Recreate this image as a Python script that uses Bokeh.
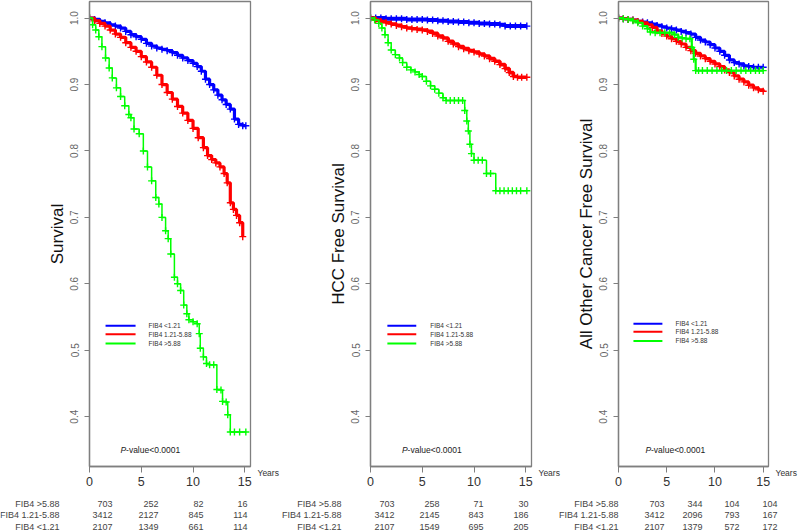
from bokeh.plotting import figure
from bokeh.models import Range1d, FixedTicker, PrintfTickFormatter, LinearAxis
from bokeh.layouts import row, column
from bokeh.core.properties import value
from bokeh.embed import file_html
from bokeh.resources import INLINE

FONT = "Liberation Sans"

# ---------------- data ----------------
group_labels = ["FIB4 <1.21", "FIB4 1.21-5.88", "FIB4 >5.88"]
group_colors = ["#0000FF", "#FF0000", "#00FF00"]

# Panel 1: overall survival
os_low_t = [0, 0.5, 1.0, 1.5, 2.0, 2.5, 3.0, 3.5, 4.0, 4.5, 5.0, 5.5, 6.0, 6.5, 7.0, 7.5, 8.0, 8.5, 9.0, 9.5,
            10.0, 10.4, 10.8, 11.2, 11.6, 12.0, 12.4, 12.8, 13.2, 13.6, 14.0, 14.4, 14.8, 15.1]
os_low_s = [1.0, 0.998, 0.995, 0.993, 0.99, 0.988, 0.985, 0.98, 0.975, 0.972, 0.968, 0.962, 0.958, 0.955, 0.953,
            0.951, 0.948, 0.944, 0.94, 0.936, 0.932, 0.927, 0.92, 0.908, 0.9, 0.892, 0.884, 0.877, 0.87, 0.863,
            0.848, 0.84, 0.838, 0.838]
os_mid_t = [0, 0.5, 1.0, 1.5, 2.0, 2.5, 3.0, 3.5, 4.0, 4.5, 5.0, 5.5, 6.0, 6.5, 7.0, 7.5, 8.0, 8.5, 9.0, 9.5,
            10.0, 10.5, 11.0, 11.4, 11.8, 12.2, 12.6, 13.0, 13.3, 13.6, 13.9, 14.2, 14.5, 14.8]
os_mid_s = [1.0, 0.996, 0.992, 0.988, 0.982, 0.976, 0.971, 0.963, 0.956, 0.95, 0.942, 0.934, 0.926, 0.914, 0.9,
            0.888, 0.878, 0.867, 0.857, 0.846, 0.834, 0.82, 0.805, 0.793, 0.787, 0.782, 0.776, 0.766, 0.752,
            0.722, 0.712, 0.703, 0.692, 0.671]
os_high_t = [0, 0.3, 0.6, 0.9, 1.2, 1.55, 1.9, 2.2, 2.6, 3.0, 3.4, 3.8, 4.0, 4.3, 4.8, 5.2, 5.6, 6.0, 6.4, 6.7,
             7.0, 7.35, 7.6, 7.85, 8.2, 8.5, 8.8, 9.1, 9.4, 9.6, 10.0, 10.4, 10.6, 10.7, 11.0, 11.3, 11.6, 12.0,
             12.3, 12.7, 12.85, 13.2, 13.35, 13.6, 14.0, 14.5, 15.1]
os_high_s = [1.0, 0.99, 0.982, 0.972, 0.957, 0.94, 0.925, 0.91, 0.895, 0.882, 0.868, 0.855, 0.85, 0.833, 0.826,
             0.80, 0.776, 0.755, 0.73, 0.72, 0.70, 0.68, 0.668, 0.645, 0.61, 0.60, 0.59, 0.568, 0.555, 0.546,
             0.543, 0.54, 0.525, 0.503, 0.49, 0.48, 0.478, 0.478, 0.441, 0.44, 0.423, 0.422, 0.403, 0.377,
             0.377, 0.377, 0.377]

# Panel 2: HCC free survival
hcc_low_t = [0, 0.5, 1, 1.5, 2, 2.5, 3, 3.5, 4, 4.5, 5, 5.5, 6, 6.5, 7, 7.5, 8, 8.5, 9, 9.5, 10, 10.5, 11,
             11.5, 12, 12.5, 13, 13.5, 14, 14.5, 15.1]
hcc_low_s = [1.0, 1.0, 1.0, 0.999, 0.999, 0.999, 0.999, 0.998, 0.998, 0.998, 0.998, 0.997, 0.997, 0.996, 0.996,
             0.995, 0.995, 0.994, 0.994, 0.993, 0.993, 0.992, 0.992, 0.991, 0.991, 0.990, 0.988, 0.988, 0.988,
             0.988, 0.988]
hcc_mid_t = [0, 0.5, 1.0, 1.5, 2.0, 2.5, 3.0, 3.5, 4.0, 4.5, 5.0, 5.5, 6.0, 6.5, 7.0, 7.5, 8.0, 8.5, 9.0, 9.5,
             10.0, 10.5, 11.0, 11.5, 12.0, 12.5, 13.0, 13.4, 13.8, 14.2, 14.6, 15.1]
hcc_mid_s = [1.0, 0.997, 0.995, 0.993, 0.991, 0.989, 0.987, 0.985, 0.984, 0.983, 0.982, 0.98, 0.977, 0.973,
             0.97, 0.965, 0.961, 0.957, 0.954, 0.951, 0.949, 0.946, 0.943, 0.939, 0.935, 0.93, 0.924, 0.918,
             0.912, 0.911, 0.911, 0.911]
hcc_high_t = [0, 0.4, 0.8, 1.1, 1.4, 1.7, 2.0, 2.4, 2.8, 3.1, 3.5, 3.9, 4.3, 4.7, 5.0, 5.4, 5.8, 6.2, 6.6, 7.0,
              7.3, 7.7, 8.1, 8.5, 8.9, 9.1, 9.3, 9.45, 9.6, 9.75, 10.0, 10.4, 10.8, 11.2, 11.6, 12.1, 12.5,
              12.9, 13.3, 13.7, 14.1, 14.5, 15.1]
hcc_high_s = [1.0, 0.997, 0.992, 0.985, 0.975, 0.963, 0.952, 0.945, 0.94, 0.933, 0.926, 0.922, 0.919, 0.915,
              0.912, 0.905, 0.898, 0.893, 0.887, 0.88, 0.876, 0.876, 0.876, 0.876, 0.876, 0.861, 0.845, 0.83,
              0.81, 0.796, 0.786, 0.786, 0.786, 0.766, 0.766, 0.74, 0.74, 0.74, 0.74, 0.74, 0.74, 0.74, 0.74]

# Panel 3: all other cancer free survival
oc_low_t = [0, 0.5, 1, 1.5, 2, 2.5, 3, 3.5, 4, 4.5, 5, 5.5, 6, 6.5, 7, 7.5, 8, 8.5, 9, 9.5, 10, 10.5, 11,
            11.5, 12, 12.5, 13, 13.5, 14, 14.5, 15]
oc_low_s = [1.0, 0.999, 0.998, 0.997, 0.995, 0.994, 0.993, 0.991, 0.989, 0.987, 0.985, 0.984, 0.982, 0.98,
            0.978, 0.976, 0.971, 0.967, 0.964, 0.96, 0.955, 0.95, 0.944, 0.937, 0.933, 0.931, 0.928, 0.927,
            0.926, 0.926, 0.926]
oc_mid_t = [0, 0.5, 1, 1.5, 2, 2.5, 3, 3.5, 4, 4.5, 5, 5.5, 6, 6.5, 7, 7.5, 8, 8.5, 9, 9.5, 10, 10.5, 11,
            11.5, 12, 12.5, 13, 13.5, 14, 14.5, 15]
oc_mid_s = [1.0, 0.999, 0.998, 0.997, 0.995, 0.993, 0.99, 0.986, 0.981, 0.977, 0.973, 0.969, 0.965, 0.961,
            0.956, 0.951, 0.947, 0.943, 0.939, 0.935, 0.931, 0.927, 0.922, 0.918, 0.913, 0.908, 0.904, 0.899,
            0.895, 0.892, 0.89]
oc_high_t = [0, 0.5, 1.0, 1.5, 2.0, 2.5, 3.0, 3.3, 3.8, 4.3, 4.8, 5.3, 5.8, 6.2, 6.6, 7.0, 7.4, 7.6, 7.8, 8.0,
             8.3, 8.7, 9.2, 9.7, 10.2, 10.7, 11.2, 11.7, 12.2, 12.7, 13.2, 13.7, 14.2, 14.6, 15.0]
oc_high_s = [1.0, 0.999, 0.998, 0.996, 0.993, 0.988, 0.984, 0.979, 0.978, 0.978, 0.978, 0.978, 0.975, 0.971,
             0.97, 0.969, 0.969, 0.956, 0.938, 0.921, 0.921, 0.921, 0.921, 0.921, 0.921, 0.921, 0.921, 0.921,
             0.921, 0.921, 0.921, 0.921, 0.921, 0.921, 0.921]

y_ticks = [0.4, 0.5, 0.6, 0.7, 0.8, 0.9, 1.0]
x_ticks = [0, 5, 10, 15]

# numbers at risk (rows: >5.88, 1.21-5.88, <1.21)
risk_labels = ["FIB4 >5.88", "FIB4 1.21-5.88", "FIB4 <1.21"]
risk_os = [[703, 252, 82, 16], [3412, 2127, 845, 114], [2107, 1349, 661, 114]]
risk_hcc = [[703, 258, 71, 30], [3412, 2145, 843, 186], [2107, 1549, 695, 205]]
risk_oc = [[703, 344, 104, 104], [3412, 2096, 793, 167], [2107, 1379, 572, 172]]

pvalue_text = "-value<0.0001"
x_unit_label = "Years"

# ---------------- layout ----------------
PLOT_H = 496
TOP, BOTTOM = 1, 30
X_END = 15.55
Y_START, Y_END = 0.325, 1.025
GREY = "#7f7f7f"


def make_panel(width, left, right, ylabel, curves, widths, leg_x0, leg_x1, leg_tx, leg_y, p_x):
    p = figure(width=width, height=PLOT_H, x_range=Range1d(0, X_END), y_range=Range1d(Y_START, Y_END),
               output_backend="svg", toolbar_location=None,
               min_border_left=left, min_border_right=right, min_border_top=TOP, min_border_bottom=BOTTOM)
    p.xgrid.visible = False
    p.ygrid.visible = False
    p.outline_line_color = GREY
    p.outline_line_width = 1.3
    p.background_fill_color = "white"
    p.border_fill_color = "white"

    xa = p.xaxis[0]
    xa.ticker = FixedTicker(ticks=x_ticks)
    xa.axis_line_color = GREY
    xa.axis_line_width = 1.3
    xa.major_tick_line_color = GREY
    xa.major_tick_in = 0
    xa.major_tick_out = 6
    xa.minor_tick_line_color = None
    xa.major_label_standoff = 4
    xa.major_label_text_font = FONT
    xa.major_label_text_font_size = "12.5px"
    xa.major_label_text_color = "#333333"

    ya = p.yaxis[0]
    ya.ticker = FixedTicker(ticks=y_ticks)
    ya.formatter = PrintfTickFormatter(format="%.1f")
    ya.axis_line_color = GREY
    ya.axis_line_width = 1.3
    ya.major_tick_line_color = GREY
    ya.major_tick_in = 0
    ya.major_tick_out = 5
    ya.minor_tick_line_color = None
    ya.major_label_orientation = "vertical"
    ya.major_label_standoff = 6
    ya.major_label_text_font = FONT
    ya.major_label_text_font_size = "10px"
    ya.major_label_text_color = "#666666"
    ya.axis_label = ylabel
    ya.axis_label_standoff = 1
    ya.axis_label_text_font = FONT
    ya.axis_label_text_font_style = "normal"
    ya.axis_label_text_font_size = "17px"
    ya.axis_label_text_color = "#111111"

    # "Years" unit text at the right end of the x axis
    p.extra_y_ranges = {"unit": Range1d(0, 100)}
    ua = LinearAxis(y_range_name="unit", ticker=FixedTicker(ticks=[0]),
                    major_label_overrides={0: "\n" + x_unit_label},
                    axis_line_color=None, major_tick_line_color=None, minor_tick_line_color=None,
                    major_tick_in=0, major_tick_out=0, major_label_standoff=7,
                    major_label_orientation="horizontal", major_label_text_font=FONT,
                    major_label_text_font_size="8.5px", major_label_text_color="#333333")
    p.add_layout(ua, "right")

    for (t, s), col, lw in zip(curves, group_colors, widths):
        p.step(t, s, mode="after", line_color=col, line_width=lw)
        p.scatter(t, s, marker="cross", size=7, line_color=col, line_width=1.4)

    # legend
    p.segment(x0=[leg_x0] * 3, x1=[leg_x1] * 3, y0=leg_y, y1=leg_y, line_color=group_colors, line_width=2)
    p.text(x=[leg_tx] * 3, y=leg_y, text=group_labels, text_font=value(FONT), text_font_size="6.5px",
           text_baseline="middle", text_align="left", text_color="#333333")

    # p-value
    p.text(x=[p_x], y=[0.35], text=["P"], text_font=value(FONT), text_font_style="italic",
           text_font_size="8.5px", text_baseline="middle", text_color="#222222")
    p.text(x=[p_x], y=[0.35], text=[pvalue_text], x_offset=5.5, text_font=value(FONT),
           text_font_size="8.5px", text_baseline="middle", text_color="#222222")
    return p


p1 = make_panel(290, 89, 40, "Survival",
                [(os_low_t, os_low_s), (os_mid_t, os_mid_s), (os_high_t, os_high_s)], [3.2, 3.2, 1.5],
                1.55, 4.45, 5.7, [0.537, 0.524, 0.51], 3.0)
p2 = make_panel(278, 80, 37, "HCC Free Survival",
                [(hcc_low_t, hcc_low_s), (hcc_mid_t, hcc_mid_s), (hcc_high_t, hcc_high_s)], [4.0, 3.6, 1.5],
                1.63, 4.42, 5.77, [0.537, 0.524, 0.51], 3.05)
p3 = make_panel(232, 50, 32, "All Other Cancer Free Survival",
                [(oc_low_t, oc_low_s), (oc_mid_t, oc_mid_s), (oc_high_t, oc_high_s)], [3.2, 3.2, 2.2],
                1.55, 4.55, 5.9, [0.54, 0.528, 0.514], 2.8)

# ---------------- numbers-at-risk table ----------------
TABLE_W, TABLE_H = 800, 35
tbl = figure(width=TABLE_W, height=TABLE_H, x_range=Range1d(0, TABLE_W), y_range=Range1d(TABLE_H, 0),
             output_backend="svg", toolbar_location=None, min_border=0)
tbl.axis.visible = False
tbl.grid.visible = False
tbl.outline_line_color = None

row_y = [7.5, 18.5, 30]
label_right = [59, 341, 618]
col_right = [[112, 158, 203, 247], [394, 439, 483, 528], [664, 702, 739, 777]]
for k, risk in enumerate([risk_os, risk_hcc, risk_oc]):
    tbl.text(x=[label_right[k]] * 3, y=row_y, text=risk_labels, text_font=value(FONT), text_font_size="9px",
             text_align="right", text_baseline="middle", text_color="#444444")
    xs, ys, txt = [], [], []
    for r, vals in enumerate(risk):
        for c, v in enumerate(vals):
            xs.append(col_right[k][c])
            ys.append(row_y[r])
            txt.append(str(v))
    tbl.text(x=xs, y=ys, text=txt, text_font=value(FONT), text_font_size="9px",
             text_align="right", text_baseline="middle", text_color="#444444")

layout = column(row(p1, p2, p3, spacing=0), tbl, spacing=0)
open("out.html", "w").write(file_html(layout, INLINE))
